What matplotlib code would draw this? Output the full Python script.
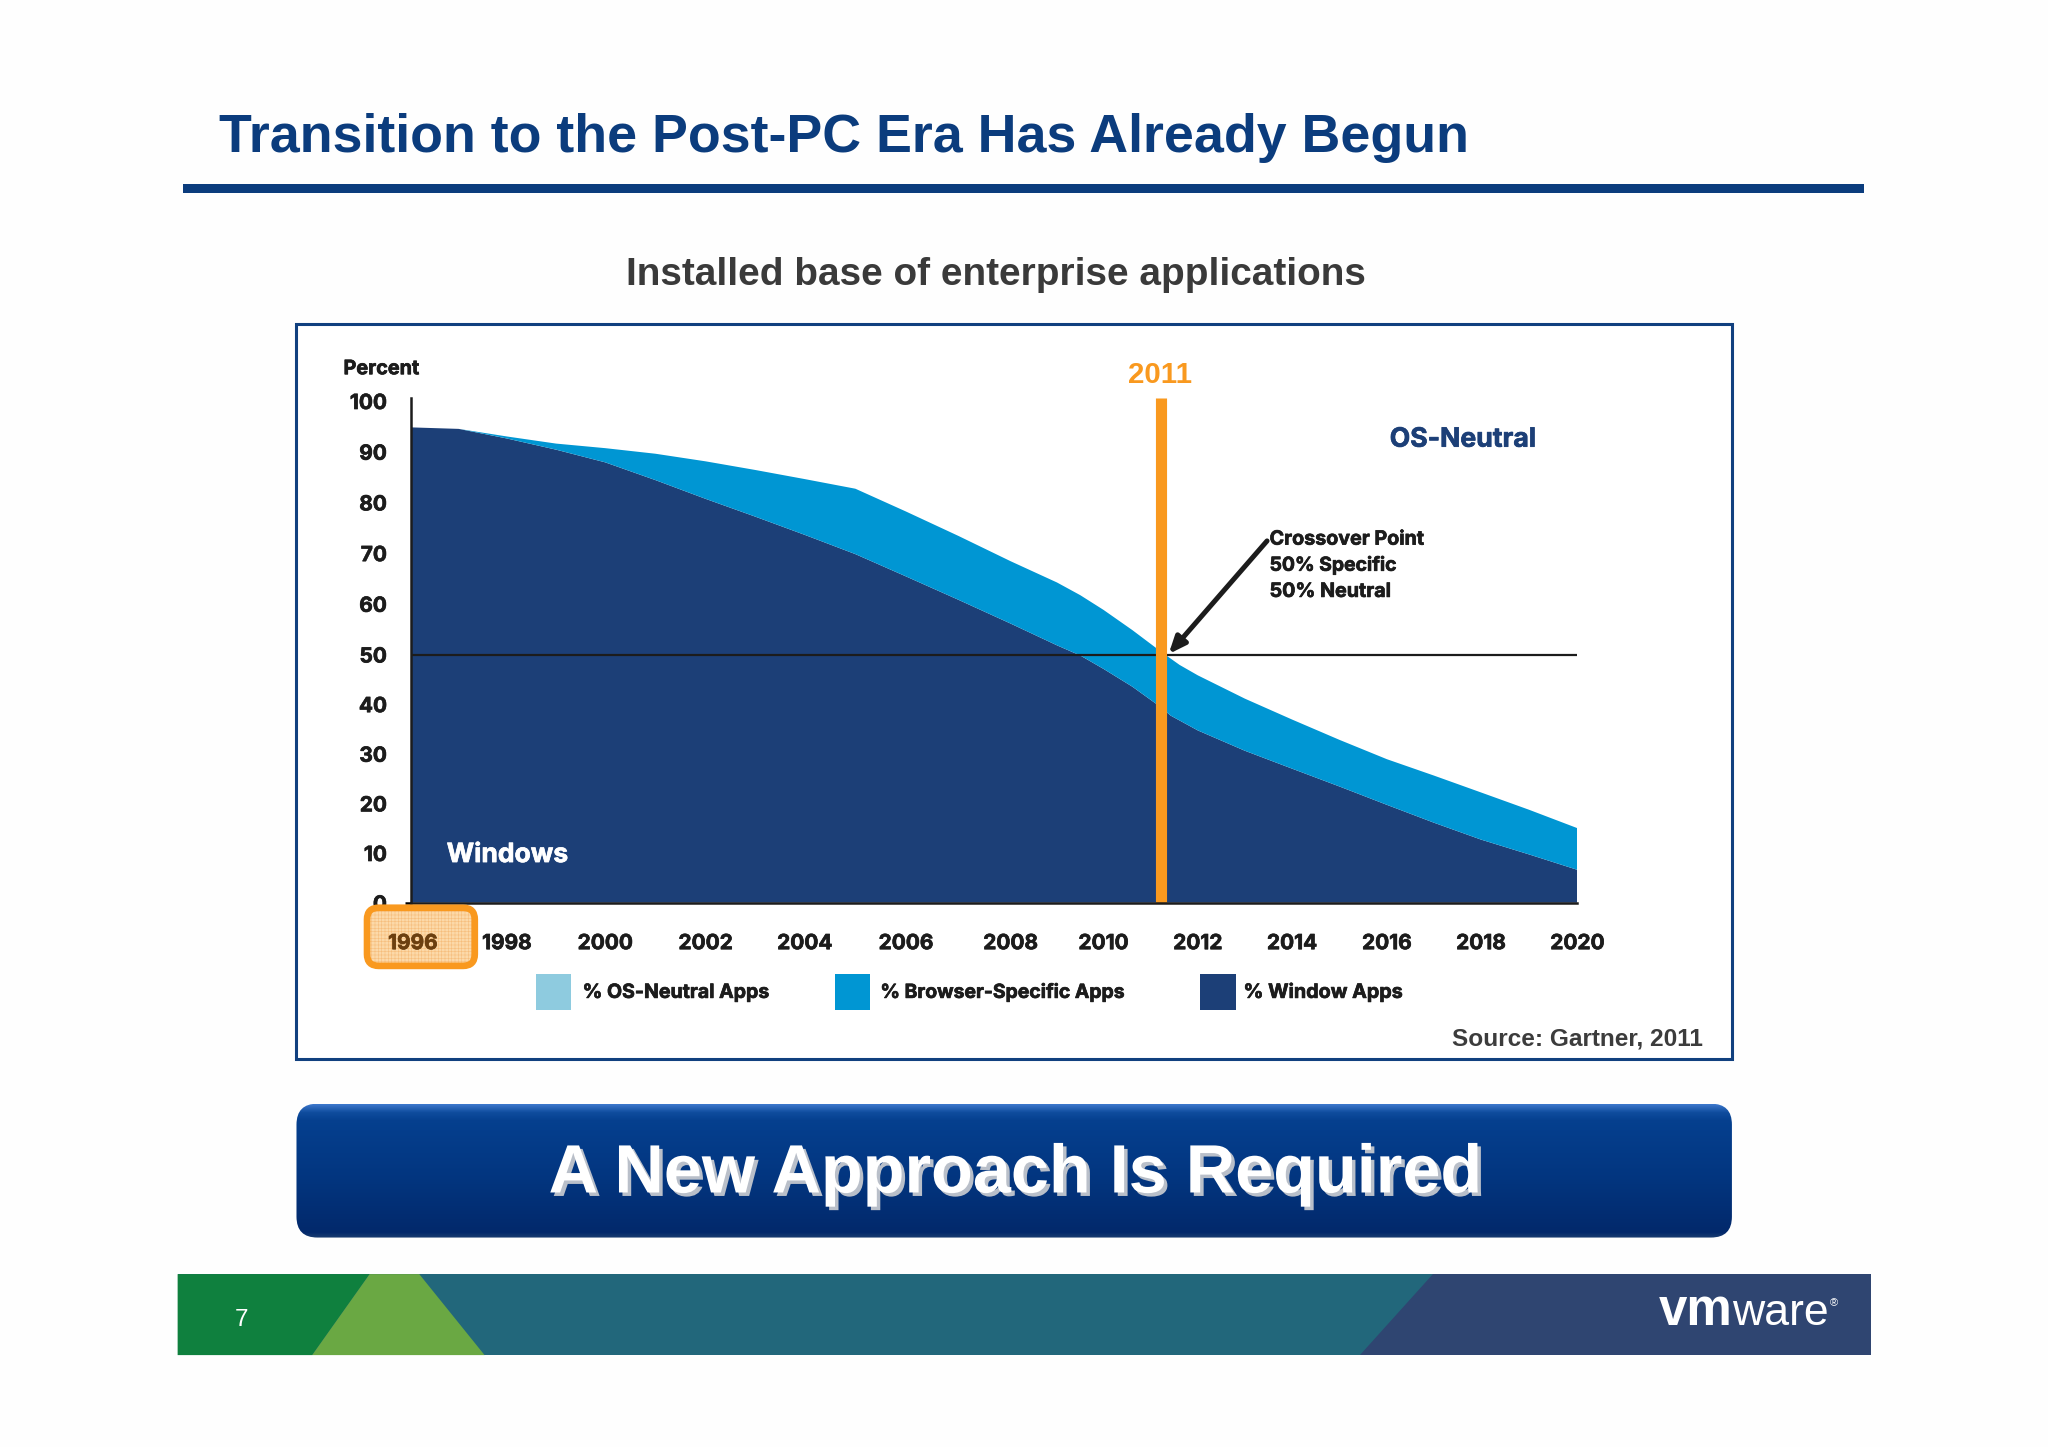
import numpy as np
import matplotlib
matplotlib.use("Agg")
import matplotlib.pyplot as plt
from matplotlib.patches import Rectangle, Polygon, FancyBboxPatch
from matplotlib.transforms import ScaledTranslation
import matplotlib.patheffects as pe

# ---- data ----
years = [1996, 1997, 1998, 1999, 2000, 2001, 2002, 2003, 2004, 2005, 2006, 2007, 2008,
         2009, 2009.5, 2010, 2010.5, 2011, 2011.25, 2011.5, 2012, 2013, 2014, 2015,
         2016, 2017, 2018, 2019, 2020]
window_apps = [94.8, 94.5, 92.6, 90.4, 87.9, 84.4, 80.7, 77.2, 73.6, 69.8, 65.4, 60.8, 56.1,
               51.8, 49.8, 47.1, 43.5, 39.3, 37.7, 36.7, 34.7, 30.6, 27.0, 23.4,
               19.7, 16.1, 12.7, 9.7, 6.6]
browser_apps = [0, 0, 0.4, 1.2, 2.8, 5.2, 7.4, 9.2, 11.0, 12.9, 12.8, 12.6, 12.3,
                12.4, 11.9, 11.7, 11.3, 11.2, 11.5, 11.2, 11.1, 10.5, 9.9, 9.4,
                9.2, 9.5, 9.5, 9.0, 8.4]
year_ticks = [1996, 1998, 2000, 2002, 2004, 2006, 2008, 2010, 2012, 2014, 2016, 2018, 2020]
pct_ticks = [0, 10, 20, 30, 40, 50, 60, 70, 80, 90, 100]
legend_labels = ["% OS-Neutral Apps", "% Browser-Specific Apps", "% Window Apps"]
crossover_lines = ["Crossover Point", "50% Specific", "50% Neutral"]
crossover_year = 2011

# the source's axes are not evenly spaced: value -> pixel anchors of its printed ticks
axis_years = [1996, 1998, 2000, 2002, 2004, 2006, 2008, 2010, 2011, 2012, 2014, 2016, 2018, 2020]
axis_px = [410.5, 507, 605.2, 705.6, 804.7, 906, 1010.6, 1103.5, 1161.4, 1197.8, 1292, 1386.9, 1481, 1577.4]
axis_pct = [0, 50, 100, 110]
axis_rise = [0, 248.1, 501.6, 552]

# ---- style ----
NAVY = "#1c3f77"
BLUE = "#0096d3"
PALE = "#8ecbdf"
ORANGE = "#f9991f"
TITLE = "#0b3c7d"
INK = "#1c1c1c"
SANS = "Liberation Sans"
CHART = "Inter"
W, H = 2048, 1447
S = W / 1568.0


def d(v):
    return v * S


fig = plt.figure(figsize=(W / 100, H / 100), dpi=100, facecolor="#fefefe")
renderer = fig.canvas.get_renderer()


def fit(t, width):
    t.set_fontsize(t.get_fontsize() * d(width) / t.get_window_extent(renderer).width)
    return t


def heavy(t, col=INK):
    t.set_path_effects([pe.withStroke(linewidth=0.5, foreground=col)])
    return t


def px_axes(z):
    a = fig.add_axes([0, 0, 1, 1], zorder=z)
    a.set_xlim(0, W)
    a.set_ylim(H, 0)
    a.axis("off")
    a.patch.set_alpha(0)
    return a


bg = px_axes(0)
ov = px_axes(5)

# ---- slide furniture ----
fit(bg.text(d(168), d(116), "Transition to the Post-PC Era Has Already Begun", family=SANS,
            weight="bold", color=TITLE, fontsize=36, va="baseline"), 957)
bg.add_patch(Rectangle((d(140), d(140.5)), d(1287), d(7.5), color=TITLE, lw=0))
fit(bg.text(d(479), d(218), "Installed base of enterprise applications", family=SANS,
            weight="bold", color="#3a3a3a", fontsize=24, va="baseline"), 568)
bg.add_patch(Rectangle((d(227), d(248)), d(1099), d(563), fc="white", ec="#11407f", lw=2.2))

# banner
rr = FancyBboxPatch((d(227), d(845)), d(1099), d(102.5), boxstyle=f"round,pad=0,rounding_size={d(16)}",
                    fc="none", ec="none")
bg.add_patch(rr)
stops = np.array([[0.24, 0.47, 0.80], [0.06, 0.30, 0.62], [0.02, 0.25, 0.56],
                  [0.01, 0.21, 0.50], [0.01, 0.16, 0.42], [0.10, 0.24, 0.44]])
pos = [0, 0.06, 0.12, 0.55, 0.96, 1]
grad = np.stack([np.interp(np.linspace(0, 1, 200), pos, stops[:, i]) for i in range(3)], axis=1)[:, None, :]
im = bg.imshow(grad, extent=(d(227), d(1326), d(947.5), d(845)), aspect="auto", zorder=1)
im.set_clip_path(rr)
bg.set_xlim(0, W)
bg.set_ylim(H, 0)
fit(bg.text(d(420), d(913), "A New Approach Is Required", family=SANS, weight="bold", color="white",
            fontsize=44, va="baseline", zorder=3,
            path_effects=[pe.withSimplePatchShadow(offset=(2.5, -2.5), shadow_rgbFace="#b9bfc9", alpha=1)]), 715)

# footer
fy0, fy1 = d(975.5), d(1037.5)
bg.add_patch(Rectangle((d(136), fy0), d(1296.5), fy1 - fy0, color="#22677b", lw=0))
bg.add_patch(Polygon([(d(136), fy0), (d(283), fy0), (d(239), fy1), (d(136), fy1)], color="#0f803e", lw=0))
bg.add_patch(Polygon([(d(283), fy0), (d(321), fy0), (d(371), fy1), (d(239), fy1)], color="#6aa843", lw=0))
bg.add_patch(Polygon([(d(1097), fy0), (d(1432.5), fy0), (d(1432.5), fy1), (d(1041), fy1)], color="#2f4571", lw=0))
bg.text(d(185), d(1015.5), "7", family=SANS, color="white", fontsize=17.5, ha="center", va="baseline")
fit(bg.text(d(1270), d(1014.6), "vm", family=SANS, weight="bold", color="white", fontsize=30, va="baseline"), 56.5)
fit(bg.text(d(1326), d(1014.6), "ware", family=SANS, color="white", fontsize=30, va="baseline"), 74)
bg.text(d(1401), d(1000), "®", family=SANS, color="white", fontsize=8, va="baseline")


# ---- chart ----
def forward(v):
    return np.interp(v, axis_years, axis_px)


def inverse(v):
    return np.interp(v, axis_px, axis_years)


def forward_y(v):
    return np.interp(v, axis_pct, axis_rise)


def inverse_y(v):
    return np.interp(v, axis_rise, axis_pct)


y0, ytop = 902.6, 397.6
ax = fig.add_axes([410.5 / W, 1 - y0 / H, (1577.4 - 410.5) / W, (y0 - ytop) / H], zorder=1)
ax.patch.set_alpha(0)
ax.set_xscale("function", functions=(forward, inverse))
ax.set_yscale("function", functions=(forward_y, inverse_y))
ax.set_xlim(1996, 2020)
ax.set_ylim(0, inverse_y(y0 - ytop))
ax.stackplot(years, window_apps, browser_apps, colors=[NAVY, BLUE], lw=0, zorder=1)
ax.axhline(50, color=INK, lw=1.6, zorder=2)
ax.axvline(crossover_year, color=ORANGE, lw=8, zorder=2.2, solid_capstyle="butt")
for s in ("top", "right"):
    ax.spines[s].set_visible(False)
for s in ("left", "bottom"):
    ax.spines[s].set_linewidth(1.8)
    ax.spines[s].set_color(INK)
ax.set_xticks(year_ticks)
ax.set_xticks([], minor=True)
ax.set_xticklabels([str(y) for y in year_ticks], family=CHART, weight="bold", fontsize=15, color=INK)
ax.set_yticks(pct_ticks)
ax.set_yticks([], minor=True)
ax.set_yticklabels([str(p) for p in pct_ticks], family=CHART, weight="bold", fontsize=15, color=INK)
ax.tick_params(axis="x", length=0, pad=22)
ax.tick_params(axis="y", length=0, pad=17)
ax.xaxis.set_zorder(4)
ax.yaxis.set_zorder(1.5)
for lab in ax.get_xticklabels() + ax.get_yticklabels():
    heavy(lab)
lab96 = ax.get_xticklabels()[0]
lab96.set_color("#6b3f10")
heavy(lab96, "#6b3f10")
lab96.set_transform(lab96.get_transform() + ScaledTranslation(1.8 / 72, 0, fig.dpi_scale_trans))
# short stub of the baseline left of the axis
zero_tick = ax.yaxis.get_major_ticks()[0].tick1line
zero_tick.set_markersize(4)
zero_tick.set_markeredgewidth(1.8)
zero_tick.set_color(INK)

# 1996 highlight sits over the clipped "0" and under its label
plt.rcParams["hatch.linewidth"] = 0.4
for kw in (dict(fc="#fcd9a9", ec="#f6bd7c", hatch="+++++", lw=0),
           dict(fc="none", ec=ORANGE, lw=4.8)):
    ax.add_patch(FancyBboxPatch((d(281), d(695)), d(82.5), d(44.5), boxstyle=f"round,pad=0,rounding_size={d(9)}",
                                transform=ov.transData, clip_on=False, zorder=3, **kw))

ax.annotate("", xy=(2011.2, 50.1), xytext=(2013.47, 72.4),
            arrowprops=dict(arrowstyle="-|>,head_length=1.0,head_width=0.42", lw=3.6, color=INK,
                            shrinkA=0, shrinkB=0), zorder=3)

# ---- chart texts ----
heavy(fit(ov.text(d(263), d(286.5), "Percent", family=CHART, weight="bold", fontsize=14, color=INK, va="baseline"), 58))
fit(ov.text(d(864), d(293), "2011", family=SANS, weight="bold", fontsize=20, color=ORANGE, va="baseline"), 49)
heavy(fit(ov.text(d(1064), d(342), "OS-Neutral", family=CHART, weight="bold", fontsize=22, color=NAVY, va="baseline"), 112), NAVY)
heavy(fit(ov.text(d(342), d(660), "Windows", family=CHART, weight="bold", fontsize=22, color="white", va="baseline"), 93), "white")
for line, base, w in zip(crossover_lines, (417, 437, 457), (118, 97, 93)):
    heavy(fit(ov.text(d(972), d(base), line, family=CHART, weight="bold", fontsize=17, color=INK, va="baseline"), w))
fit(ov.text(d(1112), d(800.5), "Source: Gartner, 2011", family=SANS, weight="bold", fontsize=18,
            color="#3c3c3c", va="baseline"), 192)

# legend
for x0, tx, w, col, lab in zip((410, 639, 919), (446, 674, 952), (143, 187, 122), (PALE, BLUE, NAVY), legend_labels):
    ov.add_patch(Rectangle((d(x0), d(746)), d(27), d(27), color=col, lw=0))
    heavy(fit(ov.text(d(tx), d(764), lab, family=CHART, weight="bold", fontsize=16, color=INK, va="baseline"), w))

fig.savefig("out.png", dpi=100, facecolor=fig.get_facecolor())
